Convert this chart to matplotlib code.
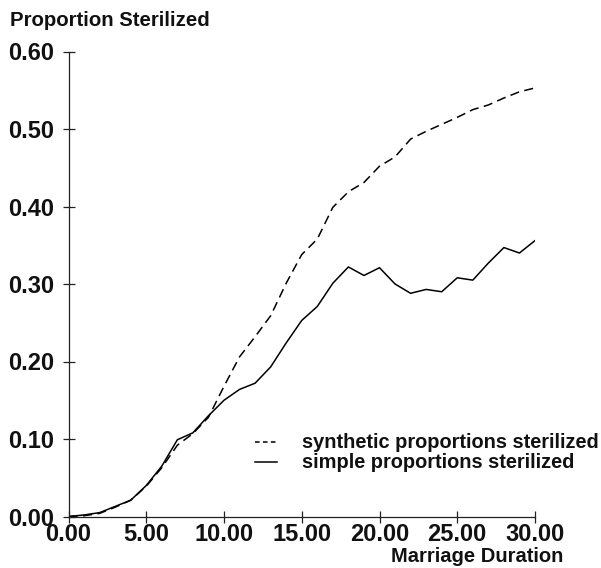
import matplotlib
matplotlib.use("Agg")
import matplotlib.pyplot as plt

plt.rcParams['font.family'] = ['Liberation Sans', 'DejaVu Sans']
plt.rcParams['font.weight'] = 'bold'

# marriage duration (years)
duration = list(range(0, 31))

# synthetic proportions sterilized (dashed)
synthetic = [0.000, 0.001, 0.004, 0.012, 0.021, 0.039, 0.063, 0.092, 0.107, 0.128,
             0.168, 0.206, 0.232, 0.259, 0.301, 0.338, 0.358, 0.399, 0.419, 0.431,
             0.452, 0.464, 0.487, 0.497, 0.506, 0.515, 0.525, 0.531, 0.540, 0.548,
             0.553]

# simple proportions sterilized (solid)
simple = [0.000, 0.002, 0.005, 0.013, 0.021, 0.040, 0.065, 0.099, 0.108, 0.130,
          0.150, 0.164, 0.172, 0.193, 0.224, 0.253, 0.271, 0.301, 0.322, 0.311,
          0.321, 0.300, 0.288, 0.293, 0.290, 0.308, 0.305, 0.327, 0.347, 0.340,
          0.356]

xticks = [0, 5, 10, 15, 20, 25, 30]
yticks = [0.0, 0.1, 0.2, 0.3, 0.4, 0.5, 0.6]

W, H = 601, 568
fig = plt.figure(figsize=(W / 100, H / 100), dpi=100)
ax = fig.add_axes([68.5 / W, 51.5 / H, (535 - 68.5) / W, 465 / H])

ax.plot(duration, synthetic, color='black', lw=1.1, dashes=(6, 3.5),
        label='synthetic proportions sterilized')
ax.plot(duration, simple, color='black', lw=1.1,
        label='simple proportions sterilized')

ax.set_xlim(0, 30)
ax.set_ylim(0, 0.6)
ax.set_xticks(xticks)
ax.set_yticks(yticks)
ax.set_xticklabels([f'{v:.2f}' for v in xticks])
ax.set_yticklabels([f'{v:.2f}' for v in yticks])
ax.tick_params(axis='both', direction='inout', length=9, width=0.9,
               labelsize=17, color='#222222', labelcolor='#111111')
ax.tick_params(axis='x', pad=0)
ax.tick_params(axis='y', pad=6)

for s in ['top', 'right']:
    ax.spines[s].set_visible(False)
for s in ['left', 'bottom']:
    ax.spines[s].set_linewidth(0.9)
    ax.spines[s].set_color('#222222')

fig.text(10 / W, 1 - 21 / H, 'Proportion Sterilized', fontsize=14.7,
         fontweight='bold', va='center', ha='left', color='#111111')
fig.text(563 / W, 1 - 557 / H, 'Marriage Duration', fontsize=14.5,
         fontweight='bold', va='center', ha='right', color='#111111')

leg = ax.legend(loc='center left', bbox_to_anchor=(255 / W, 1 - 453 / H),
                bbox_transform=fig.transFigure, frameon=False, fontsize=14.4,
                handlelength=1.1, handletextpad=1.25, labelspacing=0.05,
                borderaxespad=0, borderpad=0)
leg.get_lines()[0].set_dashes((3, 2.2))
for t in leg.get_texts():
    t.set_color('#111111')

fig.savefig('out.png', dpi=100)
